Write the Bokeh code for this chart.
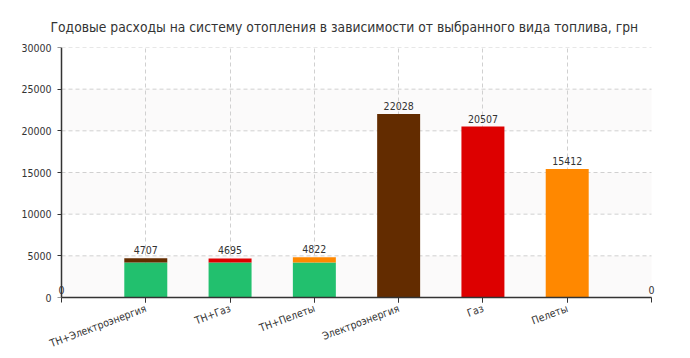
from bokeh.plotting import figure
from bokeh.models import (ColumnDataSource, Range1d, FixedTicker, BoxAnnotation, Title,
                          LinearAxis)
from bokeh.embed import file_html
from bokeh.resources import INLINE
from bokeh.core.properties import value

title_text = "Годовые расходы на систему отопления в зависимости от выбранного вида топлива, грн"
categories = ["ТН+Электроэнергия", "ТН+Газ", "ТН+Пелеты", "Электроэнергия", "Газ", "Пелеты"]
positions = [1, 2, 3, 4, 5, 6]
heat_pump_part = [4200, 4200, 4200, 0, 0, 0]
totals = [4707, 4695, 4822, 22028, 20507, 15412]
top_colors = ["#632c00", "#dd0000", "#ff8800", "#632c00", "#dd0000", "#ff8800"]
green = "#22c06e"
end_positions = [0, 7]
end_values = [0, 0]
y_ticks = [0, 5000, 10000, 15000, 20000, 25000, 30000]
band_bottoms = [0, 10000, 20000]
band_step = 5000
x_min, x_max = 0, 7

FONT = "DejaVu Sans Condensed"
FS = "10.5px"
TXT = "#333333"
AX = "#333333"

PX_PER_UNIT = 590 / 7.0
PAD = 8  # extra frame pixels on each side so end labels are not clipped
pad_u = PAD / PX_PER_UNIT

src = ColumnDataSource(dict(
    x=positions, hp=heat_pump_part, tot=totals, col=top_colors,
    lbl=[str(v) for v in totals],
))

p = figure(width=690, height=358, output_backend="svg", toolbar_location=None,
           x_range=Range1d(x_min - pad_u, x_max + pad_u), y_range=Range1d(0, 30000),
           min_border_left=61 - PAD, min_border_right=39 - PAD, min_border_top=47,
           min_border_bottom=61)
p.outline_line_color = None
p.background_fill_color = "white"
p.title = Title(text=title_text, align="left", offset=-3, text_font=FONT, text_font_size="13.75px",
                text_color=TXT, text_font_style="normal", standoff=25)

for b in band_bottoms:
    p.add_layout(BoxAnnotation(left=x_min, right=x_max, bottom=b, top=b + band_step,
                               fill_color="#fbfafa", fill_alpha=1.0, line_color=None, level="image"))

p.ygrid.visible = False
p.segment(x0=[x_min] * len(y_ticks), x1=[x_max] * len(y_ticks), y0=y_ticks, y1=y_ticks,
          line_color="#d0d0d0", line_dash="4 3", line_width=1, level="underlay")
p.xgrid.ticker = FixedTicker(ticks=positions)
p.xgrid.grid_line_color = "#d0d0d0"
p.xgrid.grid_line_dash = "4 3"

p.vbar(x="x", width=0.51, bottom=0, top="hp", fill_color=green, line_color=None, source=src)
p.vbar(x="x", width=0.51, bottom="hp", top="tot", fill_color="col", line_color=None, source=src)

p.text(x="x", y="tot", text="lbl", source=src, text_align="center", text_baseline="bottom",
       y_offset=-4, text_font=value(FONT), text_font_size=FS, text_color=TXT)
p.text(x=end_positions, y=end_values, text=[str(v) for v in end_values], text_align="center",
       text_baseline="bottom", y_offset=-4, text_font=value(FONT), text_font_size=FS,
       text_color=TXT)

# y axis line + tick marks at x = 0 (as minor ticks, no labels)
p.yaxis.fixed_location = x_min
p.yaxis.ticker = FixedTicker(ticks=[], minor_ticks=y_ticks)
p.yaxis.major_tick_out = 0
p.yaxis.major_tick_in = 0
p.yaxis.minor_tick_out = 4
p.yaxis.minor_tick_in = 0
p.yaxis.axis_line_color = AX
p.yaxis.axis_line_width = 1.5
p.yaxis.minor_tick_line_color = AX
p.yaxis.minor_tick_line_width = 1

# y tick labels in the left panel
ylab = LinearAxis(ticker=FixedTicker(ticks=y_ticks), axis_line_color=None,
                  major_tick_line_color=None, minor_tick_line_color=None,
                  major_tick_out=0, major_tick_in=0, minor_tick_out=0, minor_tick_in=0,
                  major_label_standoff=2, major_label_text_font=FONT,
                  major_label_text_font_size=FS, major_label_text_color=TXT)
p.add_layout(ylab, "left")

p.xaxis.bounds = (x_min, x_max)
p.xaxis.ticker = FixedTicker(ticks=positions, minor_ticks=[x_min] + positions + [x_max])
p.xaxis.major_label_overrides = {pos: c for pos, c in zip(positions, categories)}
p.xaxis.major_label_orientation = 0.36
p.xaxis.major_tick_out = 5
p.xaxis.major_tick_in = 0
p.xaxis.minor_tick_out = 5
p.xaxis.minor_tick_in = 0
p.xaxis.major_label_standoff = 5
p.xaxis.axis_line_color = AX
p.xaxis.axis_line_width = 1.5
p.xaxis.major_tick_line_color = AX
p.xaxis.minor_tick_line_color = AX
p.xaxis.major_label_text_font = FONT
p.xaxis.major_label_text_font_size = FS
p.xaxis.major_label_text_color = TXT

open("out.html", "w").write(file_html(p, INLINE))
